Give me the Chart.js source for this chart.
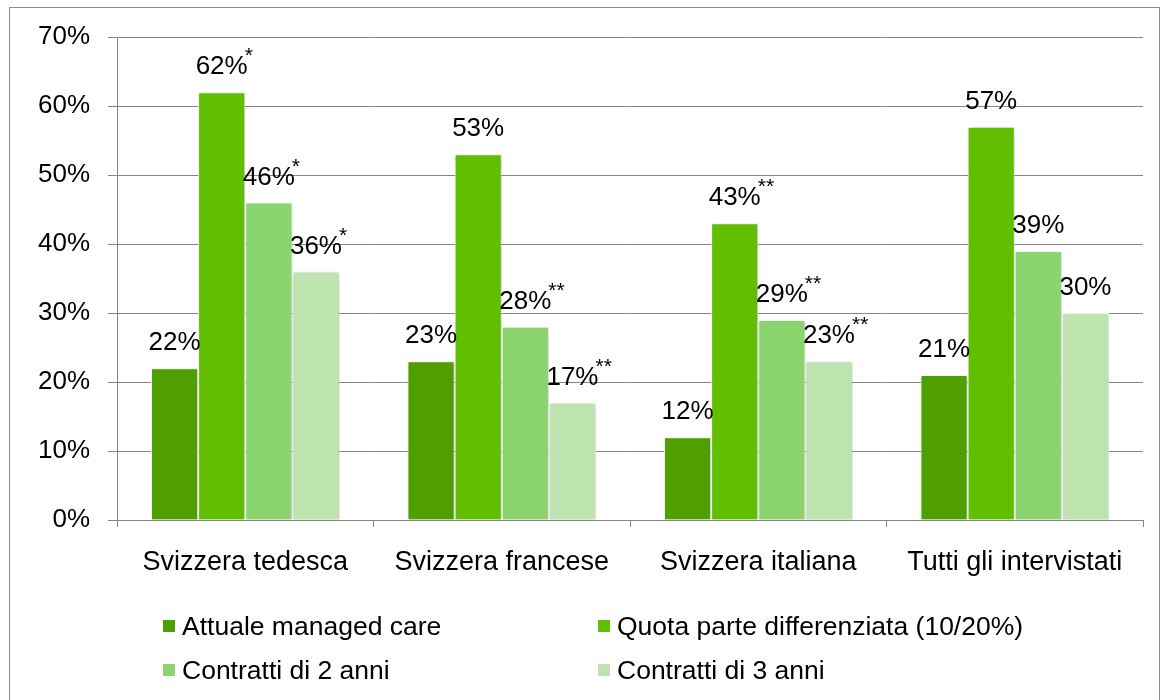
<!DOCTYPE html>
<html lang="it">
<head>
<meta charset="UTF-8" />
<title>Managed care</title>
<script src="https://cdn.jsdelivr.net/npm/chart.js@4.4.0/dist/chart.umd.min.js"></script>
<style>
  html, body { margin: 0; padding: 0; background: #fff; }
  #board { width: 1163px; height: 700px; }
</style>
</head>
<body>
<div id="board"><canvas id="chart1" width="1163" height="700"></canvas></div>
<script>
// dati
const categories = ['Svizzera tedesca', 'Svizzera francese', 'Svizzera italiana', 'Tutti gli intervistati'];
const seriesNames = ['Attuale managed care', 'Quota parte differenziata (10/20%)', 'Contratti di 2 anni', 'Contratti di 3 anni'];
const attuale = [22, 23, 12, 21];
const quota = [62, 53, 43, 57];
const contratti2 = [46, 28, 29, 39];
const contratti3 = [36, 17, 23, 30];
// asterischi (significatività)
const noteAttuale = ['', '', '', ''];
const noteQuota = ['*', '', '**', ''];
const noteContratti2 = ['*', '**', '**', ''];
const noteContratti3 = ['*', '**', '**', ''];
const yTicks = [0, 10, 20, 30, 40, 50, 60, 70];

const colors = ['#4f9f00', '#62be00', '#8cd46e', '#bde4af'];
const FONT = "'Liberation Sans', Arial, sans-serif";

const allData = [attuale, quota, contratti2, contratti3];
const allNotes = [noteAttuale, noteQuota, noteContratti2, noteContratti3];

// cornice esterna
const framePlugin = {
    id: 'frame',
    beforeDraw(chart) {
        const c = chart.ctx;
        c.save();
        c.fillStyle = '#fff';
        c.fillRect(0, 0, chart.width, chart.height);
        c.strokeStyle = '#8a8a8a';
        c.lineWidth = 1;
        c.strokeRect(9.5, 7.5, 1150, 700);
        c.restore();
    }
};

// ombra leggera sotto le barre
const shadowPlugin = {
    id: 'barShadow',
    beforeDatasetsDraw(chart) {
        const c = chart.ctx;
        c.save();
        c.shadowColor = 'rgba(0,0,0,0.22)';
        c.shadowBlur = 4;
        c.shadowOffsetX = 1;
        c.shadowOffsetY = 1;
    },
    afterDatasetsDraw(chart) {
        chart.ctx.restore();
    }
};

// etichette sopra le barre
const labelPlugin = {
    id: 'valueLabels',
    afterDatasetsDraw(chart) {
        const c = chart.ctx;
        c.save();
        chart.data.datasets.forEach((ds, di) => {
            const meta = chart.getDatasetMeta(di);
            meta.data.forEach((bar, i) => {
                const txt = ds.data[i] + '%';
                const y = bar.y - 18;
                c.font = '26px ' + FONT;
                c.fillStyle = '#000';
                c.textAlign = 'center';
                c.textBaseline = 'alphabetic';
                c.fillText(txt, bar.x, y);
                const note = ds.notes[i];
                if (note) {
                    const w = c.measureText(txt).width;
                    c.font = '21px ' + FONT;
                    c.textAlign = 'left';
                    c.fillText(note, bar.x + w / 2 - 3, y - 12);
                }
            });
        });
        c.restore();
    }
};

// legenda su due colonne
const legendPlugin = {
    id: 'twoColLegend',
    afterDraw(chart) {
        const c = chart.ctx;
        const cols = [163, 598];
        const rows = [628, 672];
        c.save();
        c.font = '26.5px ' + FONT;
        c.textBaseline = 'middle';
        c.textAlign = 'left';
        chart.data.datasets.forEach((ds, i) => {
            const x = cols[i % 2];
            const y = rows[Math.floor(i / 2)];
            c.fillStyle = ds.backgroundColor;
            c.fillRect(x, y - 8, 12, 12);
            c.fillStyle = '#000';
            c.fillText(ds.label, x + 19, y);
        });
        c.restore();
    }
};

const ctx = document.getElementById('chart1').getContext('2d');
new Chart(ctx, {
    type: 'bar',
    data: {
        labels: categories,
        datasets: seriesNames.map((name, i) => ({
            label: name,
            data: allData[i],
            notes: allNotes[i],
            backgroundColor: colors[i],
            borderColor: '#ffffff',
            borderWidth: 1,
            categoryPercentage: 0.735,
            barPercentage: 1
        }))
    },
    options: {
        responsive: false,
        animation: false,
        layout: { padding: { left: 0, right: 20, top: 37, bottom: 0 } },
        plugins: {
            legend: { display: false },
            tooltip: { enabled: false }
        },
        scales: {
            x: {
                grid: { display: true, drawOnChartArea: false, offset: true, tickLength: 7, color: '#868686' },
                border: { color: '#868686' },
                ticks: { color: '#000', font: { family: FONT, size: 27 }, padding: 19 },
                afterFit(s) { s.height = 180; }
            },
            y: {
                min: 0,
                max: 70,
                afterBuildTicks(s) { s.ticks = yTicks.map(v => ({ value: v })); },
                grid: { color: '#868686', tickLength: 9 },
                border: { color: '#868686' },
                ticks: {
                    color: '#000',
                    font: { family: FONT, size: 26 },
                    padding: 18,
                    callback: v => v + '%'
                },
                afterFit(s) { s.width = 117; }
            }
        }
    },
    plugins: [framePlugin, shadowPlugin, labelPlugin, legendPlugin]
});
</script>
</body>
</html>
